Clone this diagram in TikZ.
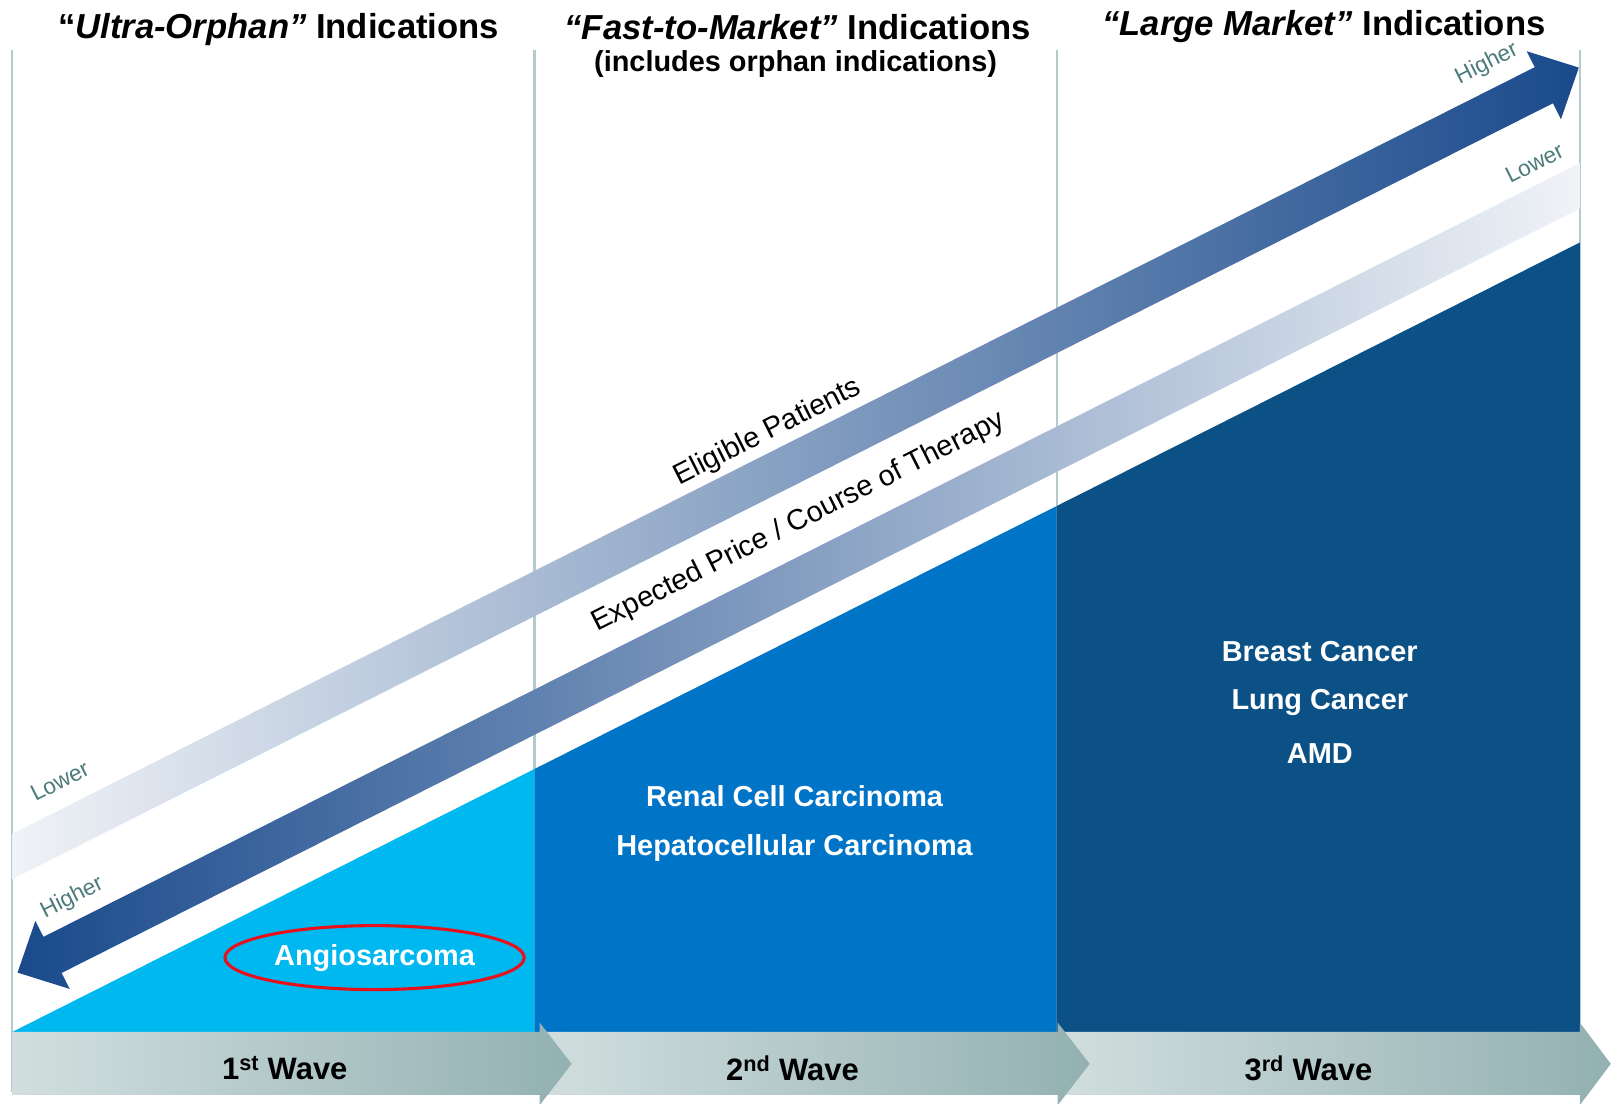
\documentclass[tikz,border=0pt]{standalone}
\usepackage{fontspec}
\setmainfont{Liberation Sans}
\usetikzlibrary{shapes.geometric}
\definecolor{lightblue}{HTML}{00B8F0}
\definecolor{midblue}{HTML}{0075C8}
\definecolor{darkblue}{HTML}{0C5186}
\definecolor{arrowdark}{HTML}{1A4A8C}
\definecolor{arrowlight}{HTML}{F0F3F7}
\definecolor{chevlight}{HTML}{D2DEDE}
\definecolor{chevdark}{HTML}{93B1B2}
\definecolor{divline}{HTML}{B4CBCD}
\definecolor{smalllab}{HTML}{4D7B7B}
\definecolor{ringred}{HTML}{E8101A}
\begin{document}
\begin{tikzpicture}[x=1pt,y=-1pt,
  titletext/.style={font=\bfseries\fontsize{33.6}{38}\selectfont, text=black, inner sep=0pt},
  subtitletext/.style={font=\bfseries\fontsize{28}{32}\selectfont, text=black, inner sep=0pt},
  bandtext/.style={font=\fontsize{28}{32}\selectfont, text=black, inner sep=0pt, rotate=26.73},
  smalltext/.style={font=\fontsize{22}{26}\selectfont, text=smalllab, inner sep=0pt, rotate=26.73},
  areatext/.style={font=\bfseries\fontsize{28}{32}\selectfont, text=white, inner sep=0pt},
  wavetext/.style={font=\bfseries\fontsize{30}{34}\selectfont, text=black, inner sep=0pt},
  divider/.style={draw=divline, line width=2pt},
  chevron/.style={left color=chevlight, right color=chevdark, draw=none}
]
\useasboundingbox (0,0) rectangle (1568,1069);
\fill[white] (0,0) rectangle (1568,1069);

% divider lines
\draw[divider] (12,48) -- (12,1058);
\draw[divider] (518,48) -- (518,1000);
\draw[divider] (1024,48) -- (1024,1000);
\draw[divider] (1531,48) -- (1531,1000);

% upper arrow (Eligible Patients)
\shade[left color=arrowlight, right color=arrowdark]
  (12,808) -- (1487.3,65.1) -- (1479.4,49.6) -- (1530,65.5) -- (1512.7,115.6) -- (1504.9,100.1) -- (12,852) -- cycle;
% lower arrow (Expected Price)
\shade[left color=arrowdark, right color=arrowlight]
  (1531,158) -- (42.1,907.9) -- (34.3,892.4) -- (17,942.5) -- (67.6,958.4) -- (59.7,942.9) -- (1531,202) -- cycle;

% filled areas
\fill[lightblue] (12,1000) -- (518,745.2) -- (518,1000) -- cycle;
\fill[midblue] (518,1000) -- (518,745.2) -- (1024,490.4) -- (1024,1000) -- cycle;
\fill[darkblue] (1024,1000) -- (1024,490.4) -- (1531,235) -- (1531,1000) -- cycle;

% chevrons (drawn right to left so heads overlap)
\shade[chevron] (1026,1000) -- (1531,1000) -- (1531,991) -- (1561,1031) -- (1531,1071) -- (1531,1061) -- (1026,1061) -- cycle;
\shade[chevron] (524,1000) -- (1025,1000) -- (1025,991) -- (1056,1031) -- (1025,1071) -- (1025,1061) -- (524,1061) -- cycle;
\shade[chevron] (12,1000) -- (523,1000) -- (523,991) -- (554,1031) -- (523,1071) -- (523,1061) -- (12,1061) -- cycle;

% titles
\node[titletext] (t1) at (270,29) {“\textit{Ultra-Orphan”} Indications};
\node[titletext] (t2) at (773,26) {\textit{“Fast-to-Market”} Indications};
\node[subtitletext] (t2b) at (771,62) {(includes orphan indications)};
\node[titletext] (t3) at (1283,26) {\textit{“Large Market”} Indications};

% band labels
\node[bandtext] (elig) at (744,419) {Eligible Patients};
\node[bandtext] (price) at (774,506) {Expected Price / Course of Therapy};
\node[smalltext] (lowL) at (58,757) {Lower};
\node[smalltext] (highL) at (70,870) {Higher};
\node[smalltext] (highR) at (1441,62) {Higher};
\node[smalltext] (lowR) at (1487,158) {Lower};

% area labels
\node[areatext, ellipse, draw=ringred, line width=3pt, minimum width=290pt, minimum height=62pt] (angio) at (363,928) {Angiosarcoma};
\node[areatext] (renal) at (770,772) {Renal Cell Carcinoma};
\node[areatext] (hepato) at (770,822) {Hepatocellular Carcinoma};
\node[areatext] (breast) at (1279,631) {Breast Cancer};
\node[areatext] (lung) at (1279,681) {Lung Cancer};
\node[areatext] (amd) at (1279,730) {AMD};

% wave labels
\node[wavetext] (w1) at (276,1035) {1\textsuperscript{st} Wave};
\node[wavetext] (w2) at (768,1035) {2\textsuperscript{nd} Wave};
\node[wavetext] (w3) at (1268,1035) {3\textsuperscript{rd} Wave};
\end{tikzpicture}
\end{document}
